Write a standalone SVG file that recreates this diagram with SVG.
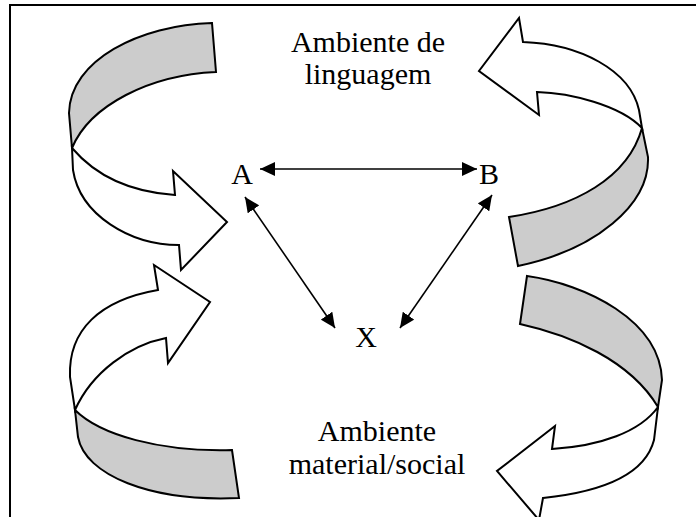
<svg xmlns="http://www.w3.org/2000/svg" width="696" height="517" viewBox="0 0 696 517">
<style>
.band{fill:#cccccc;stroke:#000;stroke-width:2;stroke-linejoin:miter}
.body{fill:#ffffff;stroke:#000;stroke-width:2;stroke-linejoin:miter}
.lbl{font-family:"Liberation Serif","Times New Roman",serif;font-size:30px;fill:#000;text-anchor:middle}
.con{stroke:#000;stroke-width:1.6;fill:none;marker-start:url(#ah);marker-end:url(#ah)}
</style>
<defs>
<marker id="ah" markerUnits="userSpaceOnUse" markerWidth="16" markerHeight="14" refX="15" refY="7" orient="auto-start-reverse">
<path d="M0,0 L15,7 L0,14 Z" fill="#000"/>
</marker>
</defs>
<rect width="696" height="517" fill="#fff"/>
<path d="M10,517 V5 H696" fill="none" stroke="#000" stroke-width="2"/>

<g id="arrow-top-left">
<path class="band" d="M212,23 C140,25 70,60 69,113 L72,148 C90,105 150,75 216,72 Z"/>
<path class="body" d="M72,148 L73,170 C80,215 130,245 179,245 L181,270 L227,222 L173,171 L175,195 C130,192 95,175 72,148 Z"/>
</g>
<g id="arrow-top-right">
<path class="body" d="M537,92 L539,115 L479,71 L519,18 L523,42 C580,44 630,70 639,110 L642,128 C620,105 570,93 537,92 Z"/>
<path class="band" d="M642,128 L648,157 C650,205 595,250 518,266 L509,217 C575,207 628,178 642,128 Z"/>
</g>
<g id="arrow-bottom-left">
<path class="body" d="M158,290 L154,265 L210,302 L168,363 L166,338 C130,345 92,372 75,410 L70,377 C68,330 100,300 158,290 Z"/>
<path class="band" d="M75,410 C100,435 160,452 232,450 L239,498 C150,502 85,475 78,437 Z"/>
</g>
<g id="arrow-bottom-right">
<path class="band" d="M527,276 C585,284 660,320 662,380 L658,407 C630,360 570,335 520,324 Z"/>
<path class="body" d="M658,407 L654,440 C645,475 600,492 543,498 L539,520 L497,471 L555,426 L552,449 C600,446 640,432 658,407 Z"/>
</g>

<g id="label-language">
<text class="lbl" x="368" y="52">Ambiente de</text>
<text class="lbl" x="368" y="84">linguagem</text>
</g>
<g id="label-material">
<text class="lbl" x="377" y="441">Ambiente</text>
<text class="lbl" x="377" y="474">material/social</text>
</g>
<g id="node-A"><text class="lbl" x="242" y="184">A</text></g>
<g id="node-B"><text class="lbl" x="489" y="184">B</text></g>
<g id="node-X"><text class="lbl" x="366" y="347">X</text></g>

<g id="connectors">
<line class="con" x1="260" y1="169" x2="477" y2="169"/>
<line class="con" x1="245" y1="197" x2="335" y2="328"/>
<line class="con" x1="492" y1="195" x2="400" y2="328"/>
</g>
</svg>
